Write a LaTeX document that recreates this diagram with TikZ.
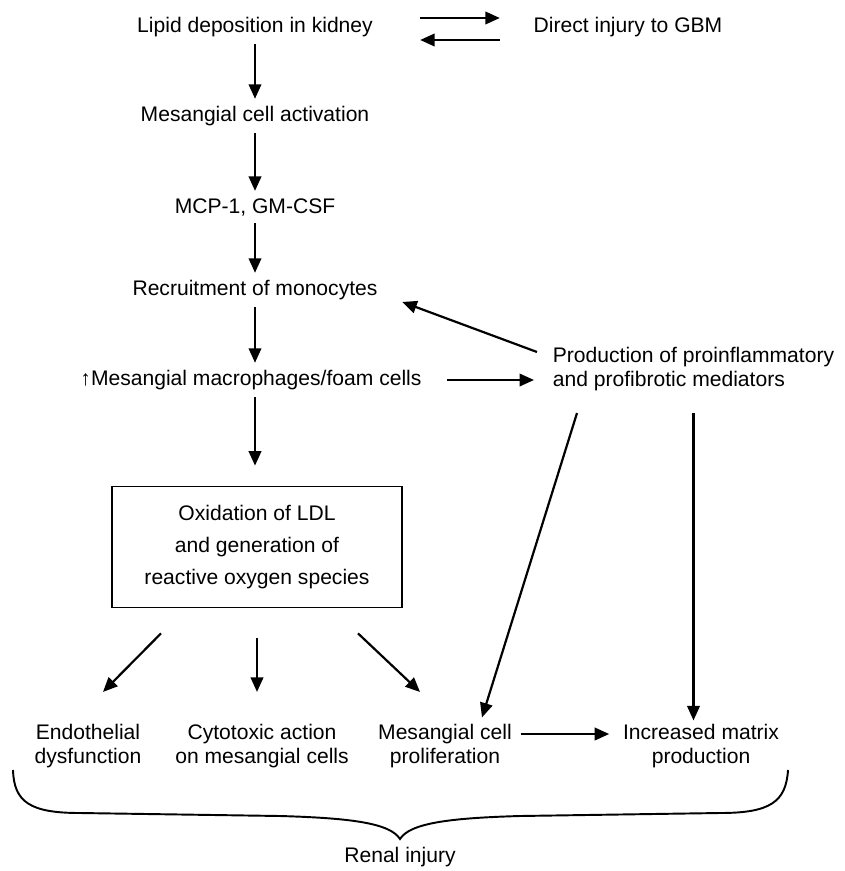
\documentclass[tikz,border=0pt]{standalone}
\usepackage{fontspec}
\setmainfont{Liberation Sans}
\usetikzlibrary{arrows.meta}

\tikzset{
	arr/.style={-{Triangle[length=2.9mm,width=2.5mm]}, line width=1.25pt, shorten <=2pt, shorten >=2pt},
	lbl/.style={align=center, inner sep=2pt},
}

\begin{document}
\begin{tikzpicture}[x=0.02cm, y=-0.02cm, font=\fontsize{12}{13.5}\selectfont]
		\useasboundingbox (0,0) rectangle (844,871);

		\node[lbl] (LD) at (255, 27) {Lipid deposition in kidney};
		\node[lbl] (DI) at (628, 27) {Direct injury to GBM};
		\node[lbl] (MA) at (255, 116) {Mesangial cell activation};
		\node[lbl] (MC) at (255, 207) {MCP-1, GM-CSF};
		\node[lbl] (RM) at (255, 290) {Recruitment of monocytes};
		\node[lbl] (MM) at (251, 380) {↑Mesangial macrophages/foam cells};
		\node[lbl, align=left, anchor=west] (PM) at (549, 369) {Production of proinflammatory\\and profibrotic mediators};
		\node[lbl, draw, line width=1pt, minimum width=5.8cm, minimum height=2.42cm, font=\fontsize{12}{18}\selectfont] (OX) at (257, 547) {Oxidation of LDL\\and generation of\\reactive oxygen species};
		\node[lbl] (EN) at (88, 746) {Endothelial\\dysfunction};
		\node[lbl] (CY) at (262, 746) {Cytotoxic action\\on mesangial cells};
		\node[lbl] (MP) at (445, 746) {Mesangial cell\\proliferation};
		\node[lbl] (IM) at (701, 746) {Increased matrix\\production};
		\node[lbl] (RI) at (400, 857) {Renal injury};

		\path ([yshift=0.18cm]LD.east) edge[arr, shorten <=0.87cm, shorten >=0.6cm] ([yshift=0.18cm]DI.west)
		([yshift=-0.26cm]DI.west) edge[arr, shorten <=0.6cm, shorten >=0.87cm] ([yshift=-0.26cm]LD.east)
		(LD) edge[arr] (MA)
		(MA) edge[arr] (MC)
		(MC) edge[arr] (RM)
		(RM) edge[arr] (RM |- MM.north)
		(RM |- MM.south) edge[arr, shorten >=0.4cm] (RM |- OX.north)
		(MM.east) edge[arr, shorten <=0.44cm, shorten >=0.3cm] (MM.east -| PM.west)
		([xshift=-0.24cm,yshift=0.34cm]PM.west) edge[arr, shorten <=0pt, shorten >=0pt] ([xshift=0.42cm,yshift=-0.24cm]RM.east)
		([xshift=-2.33cm,yshift=-0.37cm]PM.south) edge[arr, shorten <=0pt, shorten >=0pt] ([xshift=0.74cm,yshift=0.06cm]MP.north)
		(PM.south) edge[arr, shorten <=0.37cm, shorten >=0pt] (PM.south |- IM.north)
		([xshift=-1.92cm,yshift=-0.5cm]OX.south) edge[arr, shorten <=0pt, shorten >=0pt] ([xshift=0.3cm,yshift=0.57cm]EN.north)
		(OX.south) edge[arr, shorten <=0.6cm, shorten >=0.57cm] (OX.south |- CY.north)
		([xshift=2.02cm,yshift=-0.5cm]OX.south) edge[arr, shorten <=0pt, shorten >=0pt] ([xshift=-0.5cm,yshift=0.57cm]MP.north)
		([yshift=0.24cm]MP.east) edge[arr, shorten <=0.1cm, shorten >=0.2cm] ([yshift=0.24cm]IM.west);

		\draw[line width=1.1pt] (13, 770) .. controls (14, 802) and (30, 813) .. (80, 813) -- (280, 816) .. controls (350, 818) and (390, 823) .. (400, 839)
		.. controls (410, 823) and (450, 818) .. (520, 816) -- (720, 813) .. controls (770, 813) and (786, 802) .. (788, 770);

	\end{tikzpicture}
\end{document}
